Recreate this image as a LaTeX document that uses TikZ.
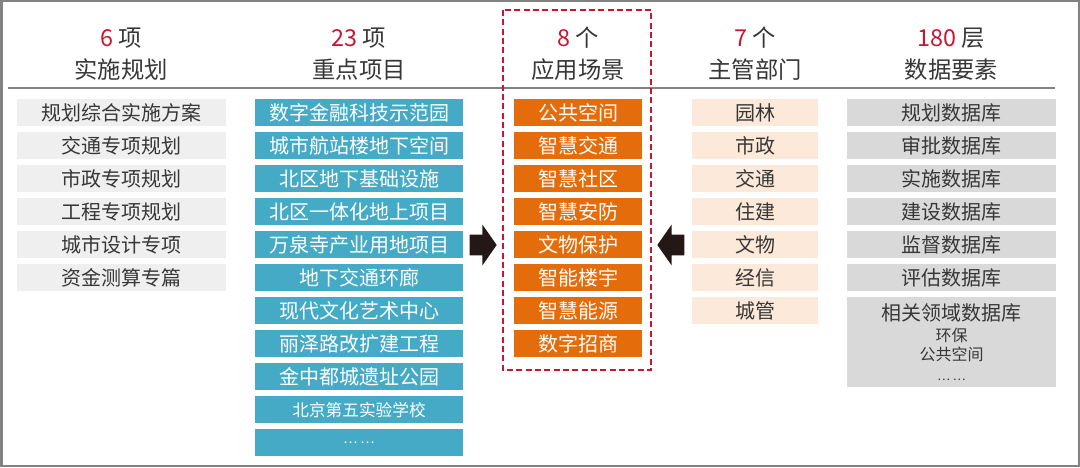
\documentclass[tikz,border=0pt]{standalone}
\usepackage{fontspec}
\setmainfont{Noto Sans CJK SC}
\usetikzlibrary{shapes.arrows}
\definecolor{numred}{RGB}{200,22,48}
\definecolor{plangray}{RGB}{239,239,239}
\definecolor{projteal}{RGB}{69,170,198}
\definecolor{sceneorange}{RGB}{228,108,10}
\definecolor{deptpeach}{RGB}{253,233,217}
\definecolor{datagray}{RGB}{217,217,217}
\definecolor{textdark}{RGB}{55,55,55}
\definecolor{framegray}{RGB}{130,130,130}
\definecolor{arrowblack}{RGB}{35,24,21}
\tikzset{
  cell/.style = {inner sep = 0pt, minimum height = 20.6pt, font = \fontsize{15}{18}\selectfont},
  planbox/.style = {cell, fill = plangray, text = textdark, minimum width = 156.75pt},
  projbox/.style = {cell, fill = projteal, text = white, minimum width = 156pt},
  scenebox/.style = {cell, fill = sceneorange, text = white, minimum width = 95.8pt},
  deptbox/.style = {cell, fill = deptpeach, text = textdark, minimum width = 94.9pt},
  databox/.style = {cell, fill = datagray, text = textdark, minimum width = 156.4pt},
  headtext/.style = {align = center, text = textdark, font = \fontsize{17.5}{24}\selectfont},
  bigarrow/.style = {single arrow, fill = arrowblack, inner xsep = 0pt, inner ysep = 7.5pt,
    minimum height = 20.25pt, single arrow head extend = 7.5pt, single arrow tip angle = 110}
}
\begin{document}
\begin{tikzpicture}[x = 0.75pt, y = -0.75pt]
\useasboundingbox (0,0) rectangle (1080,467);
\draw[framegray, line width = 1.5pt] (1.5,1.5) rectangle (1078.5,465.5);
\draw[framegray, line width = 1pt] (7.5,88) -- (1055,88);
% headers
\node[headtext] at (121,54) (h1) {\textcolor{numred}{6} 项\\实施规划};
\node[headtext] at (359,54) (h2) {\textcolor{numred}{23} 项\\重点项目};
\node[headtext] at (578,54) (h3) {\textcolor{numred}{8} 个\\应用场景};
\node[headtext] at (755,54) (h4) {\textcolor{numred}{7} 个\\主管部门};
\node[headtext] at (951.5,54) (h5) {\textcolor{numred}{180} 层\\数据要素};
% implementation plans
\node[planbox] at (121,112.75) (p1) {规划综合实施方案};
\node[planbox] at (121,145.75) (p2) {交通专项规划};
\node[planbox] at (121,178.75) (p3) {市政专项规划};
\node[planbox] at (121,211.75) (p4) {工程专项规划};
\node[planbox] at (121,244.75) (p5) {城市设计专项};
\node[planbox] at (121,277.75) (p6) {资金测算专篇};
% key projects
\node[projbox] at (359,112.75) (k1) {数字金融科技示范园};
\node[projbox] at (359,145.75) (k2) {城市航站楼地下空间};
\node[projbox] at (359,178.75) (k3) {北区地下基础设施};
\node[projbox] at (359,211.75) (k4) {北区一体化地上项目};
\node[projbox] at (359,244.75) (k5) {万泉寺产业用地项目};
\node[projbox] at (359,277.75) (k6) {地下交通环廊};
\node[projbox] at (359,310.75) (k7) {现代文化艺术中心};
\node[projbox] at (359,343.75) (k8) {丽泽路改扩建工程};
\node[projbox] at (359,376.75) (k9) {金中都城遗址公园};
\node[projbox, font = \fontsize{12.5}{15}\selectfont] at (359,409.75) (k10) {北京第五实验学校};
\node[projbox, font = \fontsize{10}{12}\selectfont] at (359,442.75) (k11) {… …};
% scenarios
\draw[numred, line width = 1pt, dash pattern = on 4.5pt off 2.5pt] (503,10) rectangle (651,370);
\node[scenebox] at (578,112.75) (s1) {公共空间};
\node[scenebox] at (578,145.75) (s2) {智慧交通};
\node[scenebox] at (578,178.75) (s3) {智慧社区};
\node[scenebox] at (578,211.75) (s4) {智慧安防};
\node[scenebox] at (578,244.75) (s5) {文物保护};
\node[scenebox] at (578,277.75) (s6) {智能楼宇};
\node[scenebox] at (578,310.75) (s7) {智慧能源};
\node[scenebox] at (578,343.75) (s8) {数字招商};
% departments
\node[deptbox] at (755,112.75) (d1) {园林};
\node[deptbox] at (755,145.75) (d2) {市政};
\node[deptbox] at (755,178.75) (d3) {交通};
\node[deptbox] at (755,211.75) (d4) {住建};
\node[deptbox] at (755,244.75) (d5) {文物};
\node[deptbox] at (755,277.75) (d6) {经信};
\node[deptbox] at (755,310.75) (d7) {城管};
% data layers
\node[databox] at (951.5,112.75) (b1) {规划数据库};
\node[databox] at (951.5,145.75) (b2) {审批数据库};
\node[databox] at (951.5,178.75) (b3) {实施数据库};
\node[databox] at (951.5,211.75) (b4) {建设数据库};
\node[databox] at (951.5,244.75) (b5) {监督数据库};
\node[databox] at (951.5,277.75) (b6) {评估数据库};
\node[databox, minimum height = 67.5pt, align = center, font = \fontsize{12}{14.5}\selectfont] at (951.5,342) (b7)
  {{\fontsize{15}{18}\selectfont 相关领域数据库}\\[1pt]环保\\公共空间\\{\fontsize{9}{11}\selectfont … …}};
% arrows
\node[bigarrow, anchor = tip] at (497,245) (arrR) {};
\node[bigarrow, shape border rotate = 180, anchor = tip] at (657,245) (arrL) {};
\end{tikzpicture}
\end{document}
